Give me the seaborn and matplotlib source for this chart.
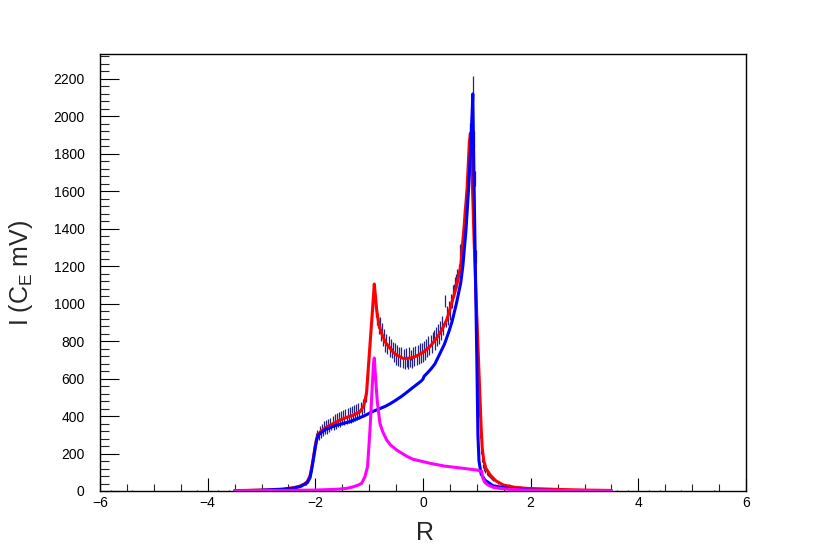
###### Libraries

import numpy as np
import pandas as pd
import matplotlib
matplotlib.use("Agg")
import matplotlib.pyplot as plt
import seaborn as sns
from matplotlib.ticker import MultipleLocator

###### Data

# measured spectrum, bin centres every 0.02 from -2.20 to 1.30
data_r = np.round(np.arange(-2.20, 1.301, 0.02), 2)
data_i = [41, 39, 50, 53, 72, 84, 102, 142, 168, 212,
          230, 290, 310, 288, 330, 300, 340, 312, 355, 322,
          362, 325, 365, 335, 372, 342, 380, 345, 390, 352,
          395, 358, 400, 362, 408, 370, 412, 372, 418, 378,
          425, 380, 428, 385, 435, 390, 440, 395, 445, 400,
          450, 405, 455, 420, 470, 440, 505, 500, 560, 620,
          705, 790, 870, 935, 990, 1010, 960, 915, 900, 865,
          900, 830, 865, 800, 835, 772, 810, 760, 800, 745,
          785, 735, 770, 715, 760, 700, 750, 695, 740, 690,
          740, 685, 730, 678, 735, 690, 680, 740, 688, 728,
          685, 742, 695, 748, 700, 752, 705, 760, 712, 765,
          715, 772, 728, 785, 740, 798, 752, 805, 762, 820,
          830, 782, 845, 800, 862, 815, 880, 835, 905, 860,
          1015, 905, 955, 915, 985, 945, 1020, 1010, 1065, 1070,
          1110, 1125, 1150, 1180, 1285, 1245, 1300, 1360, 1470, 1495,
          1560, 1640, 1720, 1830, 1920, 1960, 2168, 1880, 1670, 1250,
          900, 640, 420, 300, 210, 165, 135, 118, 104, 96,
          92, 86, 80, 74, 68, 62]

# sparse tails, mostly empty
tail_left_r = [-5.8, -5.6, -5.4, -5.2, -5.0, -4.8, -4.6, -4.4, -4.2, -4.0,
               -3.8, -3.6, -3.4, -3.2, -3.0, -2.8, -2.6, -2.4]
tail_left_i = [2, 1, 2, 1, 1, 0, 1, 1, 2, 1, 2, 2, 3, 3, 4, 6, 10, 18]
tail_right_r = [1.4, 1.6, 1.8, 2.0, 2.2, 2.4, 2.6, 2.8, 3.0, 3.2, 3.4, 3.6,
                3.8, 4.0, 4.2, 4.4, 4.6, 4.8, 5.0, 5.2, 5.4, 5.6, 5.8]
tail_right_i = [45, 30, 24, 18, 14, 12, 10, 8, 7, 6, 5, 4,
                3, 3, 2, 2, 1, 2, 1, 1, 2, 1, 1]

# total fit (red)
red_r = [-3.5, -3.0, -2.6, -2.4, -2.3, -2.2, -2.15, -2.1, -2.07, -2.03,
         -2.0, -1.975, -1.95, -1.91, -1.8, -1.7, -1.54, -1.4, -1.3, -1.17,
         -1.1, -1.05, -1.0, -0.95, -0.905, -0.88, -0.86, -0.82, -0.77, -0.7,
         -0.64, -0.55, -0.49, -0.37, -0.3, -0.2, -0.12, 0.0, 0.13, 0.25,
         0.35, 0.45, 0.54, 0.62, 0.70, 0.76, 0.82, 0.86, 0.88, 0.9,
         0.95, 1.0, 1.05, 1.08, 1.1, 1.13, 1.17, 1.25, 1.35, 1.49,
         1.7, 1.93, 2.55, 3.0, 3.5]
red_i = [2, 5, 10, 18, 25, 38, 50, 80, 120, 190,
         245, 280, 300, 315, 340, 355, 379, 395, 405, 423,
         455, 520, 720, 920, 1105, 1030, 966, 890, 842, 795,
         771, 740, 726, 708, 708, 712, 721, 740, 771, 815,
         860, 920, 1010, 1090, 1200, 1400, 1620, 1860, 1910, 1800,
         1330, 930, 560, 340, 230, 160, 120, 85, 55, 32,
         20, 14, 8, 5, 3]

# first component (blue)
blue_r = [-3.5, -3.0, -2.6, -2.4, -2.28, -2.15, -2.1, -2.07, -2.03, -2.0,
          -1.975, -1.95, -1.91, -1.8, -1.6, -1.36, -1.1, -0.93, -0.8, -0.7,
          -0.61, -0.52, -0.4, -0.3, -0.2, -0.1, -0.03, 0.0, 0.02, 0.08,
          0.15, 0.22, 0.3, 0.4, 0.48, 0.54, 0.62, 0.7, 0.74, 0.8,
          0.845, 0.88, 0.91, 0.925, 0.95, 0.98, 1.0, 1.02, 1.04, 1.08,
          1.15, 1.3, 1.6, 2.0, 2.6, 3.5]
blue_i = [1, 4, 9, 16, 23, 44, 70, 112, 180, 235,
          272, 295, 308, 330, 352, 370, 400, 425, 440, 452,
          466, 482, 505, 527, 550, 572, 588, 598, 612, 630,
          652, 678, 725, 785, 850, 905, 1000, 1110, 1200, 1400,
          1607, 1800, 2000, 2120, 1620, 1050, 700, 300, 160, 90,
          58, 28, 13, 5, 2, 0]

# second component (magenta)
mag_r = [-3.5, -3.0, -2.5, -2.0, -1.6, -1.42, -1.3, -1.2, -1.14, -1.08,
         -1.03, -0.985, -0.95, -0.92, -0.905, -0.88, -0.85, -0.8, -0.75, -0.675,
         -0.6, -0.49, -0.3, -0.18, 0.13, 0.4, 0.75, 1.0, 1.09, 1.11,
         1.15, 1.21, 1.3, 1.43, 1.6, 1.93, 2.5, 3.0, 3.5]
mag_i = [1, 2, 3, 5, 9, 14, 22, 32, 41, 75,
         130, 326, 520, 680, 710, 600, 480, 361, 318, 272,
         245, 219, 185, 169, 148, 133, 121, 112, 105, 70,
         45, 32, 20, 14, 9, 5, 3, 2, 1]

###### Tables

hist = pd.DataFrame({
    "r": np.concatenate([tail_left_r, data_r, tail_right_r]),
    "i": np.concatenate([tail_left_i, data_i, tail_right_i]).astype(float),
})
hist["err"] = np.sqrt(hist["i"])
hist = hist[hist["i"] > 0]

red = pd.DataFrame({"r": red_r, "i": red_i})
blue = pd.DataFrame({"r": blue_r, "i": blue_i})
mag = pd.DataFrame({"r": mag_r, "i": mag_i})

###### Style

sns.set_style("ticks")
plt.rcParams["font.family"] = ["Liberation Sans", "DejaVu Sans"]
plt.rcParams["mathtext.fontset"] = "custom"
plt.rcParams["mathtext.rm"] = "Liberation Sans"
plt.rcParams["mathtext.it"] = "Liberation Sans:italic"

###### Plot

fig = plt.figure(figsize=(8.3, 5.46), dpi=100)
ax = fig.add_axes([100 / 830, 55 / 546, 646 / 830, 437 / 546])

ax.vlines(hist["r"], hist["i"] - hist["err"], hist["i"] + hist["err"],
          color="#222288", linewidth=0.9, zorder=1)

sns.lineplot(data=red, x="r", y="i", sort=False, estimator=None,
             color="#ff0000", linewidth=2.2, ax=ax, zorder=2)
sns.lineplot(data=blue, x="r", y="i", sort=False, estimator=None,
             color="#0000ff", linewidth=2.2, ax=ax, zorder=3)
sns.lineplot(data=mag, x="r", y="i", sort=False, estimator=None,
             color="#ff00ff", linewidth=2.2, ax=ax, zorder=4)

ax.set_xlim(-6, 6)
ax.set_ylim(0, 2333)
ax.xaxis.set_major_locator(MultipleLocator(2))
ax.xaxis.set_minor_locator(MultipleLocator(0.5))
ax.yaxis.set_major_locator(MultipleLocator(200))
ax.yaxis.set_minor_locator(MultipleLocator(40))

ax.tick_params(axis="x", which="major", direction="in", length=9.4, width=0.8,
               pad=3.5, labelsize=10, colors="black")
ax.tick_params(axis="x", which="minor", direction="in", length=4.7, width=0.8)
ax.tick_params(axis="y", which="major", direction="in", length=13.7, width=0.8,
               pad=11, labelsize=10, colors="black")
ax.tick_params(axis="y", which="minor", direction="in", length=6.8, width=0.8)
ax.tick_params(top=False, right=False, which="both")

for s in ax.spines.values():
    s.set_linewidth(1.0)
    s.set_color("black")

ax.set_xlabel("R", fontsize=18)
ax.set_ylabel(r"I (C$_\mathrm{E}$ mV)", fontsize=18)
ax.xaxis.set_label_coords(0.503, -0.068)
ax.yaxis.set_label_coords(-0.1, 0.5)

fig.savefig("out.png", dpi=100)
